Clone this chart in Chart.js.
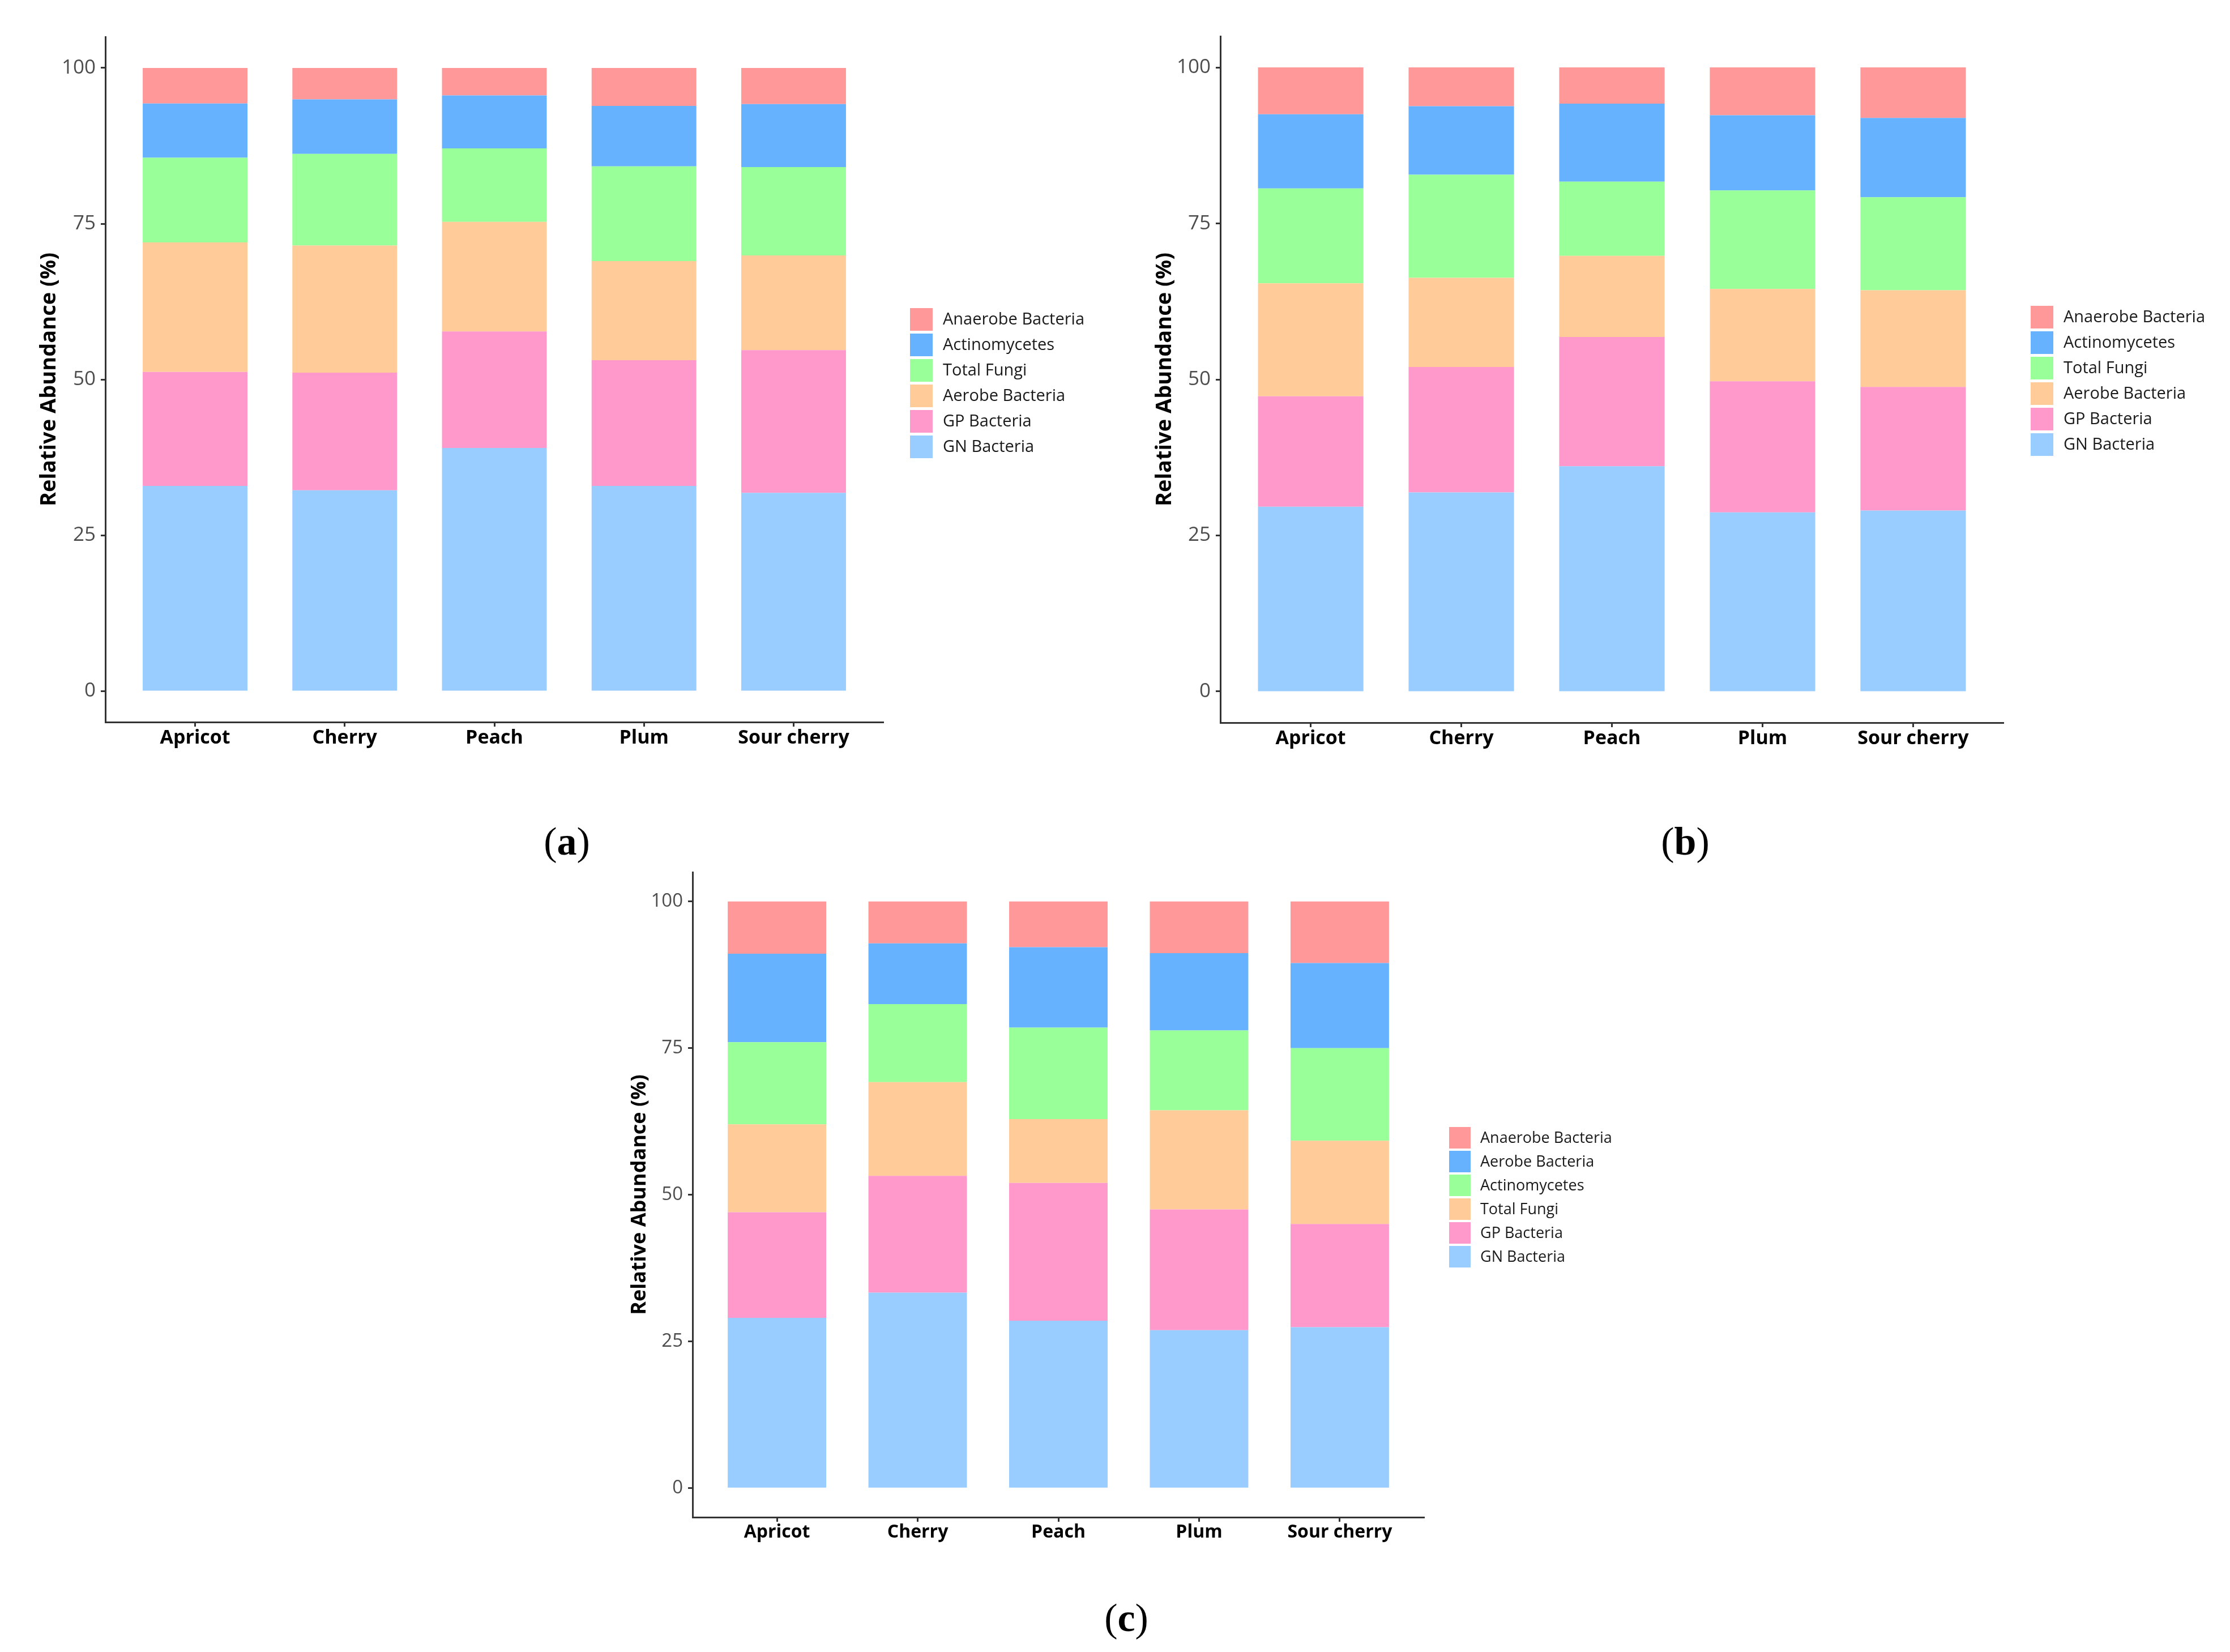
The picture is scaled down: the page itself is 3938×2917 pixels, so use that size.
<!DOCTYPE html>
<html>
<head>
<meta charset="utf-8">
<script src="https://cdn.jsdelivr.net/npm/chart.js@4.4.1/dist/chart.umd.min.js"></script>
<style>
  html, body { margin: 0; padding: 0; background: #fff; }
  body { width: 3938px; height: 2917px; position: relative; overflow: hidden; }
  canvas { position: absolute; }
  .tag { position: absolute; width: 200px; text-align: center; font-family: 'Liberation Serif', serif; font-size: 70px; line-height: 80px; color: #000; }
</style>
</head>
<body>
<canvas id="chartA" width="1969" height="1400" style="left:0px;top:0px"></canvas>
<canvas id="chartB" width="1969" height="1400" style="left:1969px;top:0px"></canvas>
<canvas id="chartC" width="1900" height="1300" style="left:1000px;top:1480px"></canvas>
<div class="tag" style="left:901px;top:1446px">(<b>a</b>)</div>
<div class="tag" style="left:2876px;top:1446px">(<b>b</b>)</div>
<div class="tag" style="left:1889px;top:2817px">(<b>c</b>)</div>
<script>
const categories = ['Apricot', 'Cherry', 'Peach', 'Plum', 'Sour cherry'];
const yTicks = [0, 25, 50, 75, 100];
// colours from bottom of the stack to the top
const colors = ['#99CCFF', '#FF99CC', '#FFCC99', '#99FF99', '#66B2FF', '#FF9999'];
const groupsAB = ['GN Bacteria', 'GP Bacteria', 'Aerobe Bacteria', 'Total Fungi', 'Actinomycetes', 'Anaerobe Bacteria'];
const groupsC = ['GN Bacteria', 'GP Bacteria', 'Total Fungi', 'Actinomycetes', 'Aerobe Bacteria', 'Anaerobe Bacteria'];

// (a)
const aGN = [32.9, 32.2, 39.0, 32.9, 31.8];
const aGP = [18.3, 18.9, 18.7, 20.2, 22.9];
const aAerobe = [20.8, 20.4, 17.6, 15.9, 15.2];
const aFungi = [13.6, 14.7, 11.8, 15.2, 14.2];
const aActino = [8.7, 8.75, 8.5, 9.7, 10.1];
const aAnaerobe = [5.7, 5.05, 4.4, 6.1, 5.8];

// (b)
const bGN = [29.6, 31.9, 36.1, 28.7, 29.0];
const bGP = [17.7, 20.1, 20.7, 21.0, 19.8];
const bAerobe = [18.1, 14.3, 13.0, 14.8, 15.5];
const bFungi = [15.2, 16.5, 11.9, 15.8, 14.9];
const bActino = [11.9, 11.0, 12.5, 12.05, 12.7];
const bAnaerobe = [7.5, 6.2, 5.8, 7.65, 8.1];

// (c)
const cGN = [29.0, 33.3, 28.5, 26.9, 27.4];
const cGP = [18.0, 19.9, 23.5, 20.6, 17.6];
const cFungi = [15.0, 16.0, 10.9, 16.9, 14.2];
const cActino = [14.0, 13.3, 15.6, 13.6, 15.8];
const cAerobe = [15.1, 10.35, 13.7, 13.2, 14.5];
const cAnaerobe = [8.9, 7.15, 7.8, 8.8, 10.5];

Chart.defaults.font.family = "'Open Sans', 'Noto Sans', sans-serif";

// ggplot style legend on the right, top entry = top of the stack
const sideLegend = {
    id: 'sideLegend',
    afterDraw(chart, args, opts) {
        const ctx = chart.ctx;
        const sets = chart.data.datasets.slice().reverse();
        ctx.save();
        ctx.font = opts.fontSize + "px 'Open Sans'";
        ctx.textBaseline = 'middle';
        ctx.textAlign = 'left';
        sets.forEach((ds, i) => {
            const y = opts.top + i * opts.step;
            ctx.fillStyle = ds.backgroundColor;
            ctx.fillRect(opts.x, y, opts.box, opts.box);
            ctx.fillStyle = '#1a1a1a';
            ctx.fillText(ds.label, opts.textX, y + opts.box / 2 + 1);
        });
        ctx.restore();
    }
};

function makeChart(canvasId, groups, series, L) {
    const ctx = document.getElementById(canvasId).getContext('2d');
    const datasets = series.map((vals, k) => ({
        label: groups[k],
        data: vals.map((v, i) => ({ x: i + 1, y: v })),
        backgroundColor: colors[k],
        borderWidth: 0,
        barPercentage: 0.7,
        categoryPercentage: 1.0
    }));
    return new Chart(ctx, {
        type: 'bar',
        data: { datasets: datasets },
        options: {
            responsive: false,
            animation: false,
            devicePixelRatio: 1,
            layout: { padding: { top: L.top, right: L.right, left: 0, bottom: 0 } },
            plugins: {
                legend: { display: false },
                tooltip: { enabled: false },
                sideLegend: L.legend
            },
            scales: {
                x: {
                    type: 'linear',
                    min: 0.4, max: 5.6,
                    offset: false,
                    stacked: true,
                    afterBuildTicks: axis => { axis.ticks = categories.map((c, i) => ({ value: i + 1 })); },
                    afterFit: scale => { scale.height = L.xHeight; },
                    ticks: {
                        callback: v => categories[Math.round(v) - 1],
                        font: { size: L.xFont, weight: 'bold' },
                        color: '#000',
                        padding: L.xPad,
                        maxRotation: 0,
                        autoSkip: false
                    },
                    grid: { offset: false, drawOnChartArea: false, drawTicks: true, tickLength: 8, tickColor: '#333', tickWidth: 3 },
                    border: { display: true, color: '#333', width: 3 }
                },
                y: {
                    min: -5, max: 105,
                    stacked: true,
                    afterBuildTicks: axis => { axis.ticks = yTicks.map(v => ({ value: v })); },
                    afterFit: scale => { scale.width = L.yWidth; },
                    ticks: {
                        font: { size: L.yFont },
                        color: '#4d4d4d',
                        padding: 9
                    },
                    grid: { drawOnChartArea: false, drawTicks: true, tickLength: 8, tickColor: '#333', tickWidth: 3 },
                    border: { display: true, color: '#333', width: 3 },
                    title: {
                        display: true,
                        text: 'Relative Abundance (%)',
                        color: '#000',
                        font: { size: L.titleFont, weight: 'bold' },
                        padding: { top: L.titlePad, bottom: 0 }
                    }
                }
            }
        },
        plugins: [sideLegend]
    });
}

makeChart('chartA', groupsAB, [aGN, aGP, aAerobe, aFungi, aActino, aAnaerobe], {
    top: 65, right: 409, xHeight: 125, yWidth: 186, xFont: 34, yFont: 35, titleFont: 38, titlePad: 64, xPad: 0,
    legend: { x: 1607, textX: 1665, top: 544, box: 40, step: 45, fontSize: 29 }
});

makeChart('chartB', groupsAB, [bGN, bGP, bAerobe, bFungi, bActino, bAnaerobe], {
    top: 64, right: 400, xHeight: 124, yWidth: 186, xFont: 34, yFont: 35, titleFont: 38, titlePad: 65, xPad: 0,
    legend: { x: 1617, textX: 1675, top: 540, box: 40, step: 45, fontSize: 29 }
});

makeChart('chartC', groupsC, [cGN, cGP, cFungi, cActino, cAerobe, cAnaerobe], {
    top: 60, right: 385, xHeight: 101, yWidth: 223, xFont: 32, yFont: 33, titleFont: 36, titlePad: 108, xPad: 0,
    legend: { x: 1559, textX: 1614, top: 510, box: 38, step: 42, fontSize: 27 }
});
</script>
</body>
</html>
